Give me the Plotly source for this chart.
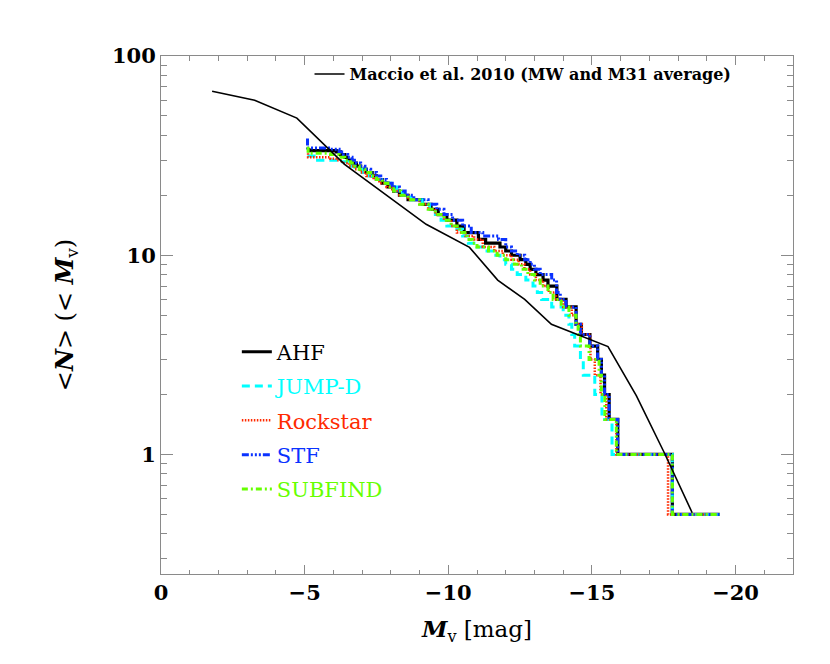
import plotly.graph_objects as go

# Magnitude where each level starts, and the mean satellite count at that level
ahf_mv = [-5.15, -5.15, -6.1, -6.25, -6.4, -6.5, -6.65, -6.8, -6.95, -7.15, -7.35, -7.5, -7.7, -7.9,
          -8.1, -8.3, -8.6, -9.1, -9.4, -9.65, -9.95, -10.3, -10.55, -11.05, -11.3, -11.8, -12.0,
          -12.2, -12.5, -12.7, -12.85, -13.05, -13.3, -13.47, -13.78, -14.1, -14.45, -14.63, -14.93,
          -15.2, -15.33, -15.44, -15.6, -15.9, -17.8, -19.45]
ahf_n = [34.5, 33.5, 33, 32, 31, 30, 29, 28, 27, 26, 25, 24, 23, 22, 21, 20, 19, 18, 17, 16, 15, 14,
         13, 12, 11.5, 11, 10.5, 10, 9.5, 9, 8.5, 8, 7.5, 7, 6, 5.5, 4.5, 4, 3.5, 3, 2.5, 2, 1.5, 1,
         0.5, 0.5]

jump_mv = [-5.15, -5.15, -5.45, -6.2, -6.5, -6.75, -7.0, -7.25, -7.45, -7.75, -8.0, -8.2, -8.4, -8.7,
           -9.1, -9.35, -9.55, -9.75, -9.95, -10.3, -10.5, -10.7, -11.0, -11.35, -11.6, -11.8, -12.0,
           -12.2, -12.4, -12.7, -12.95, -13.1, -13.25, -13.6, -14.0, -14.2, -14.3, -14.4, -14.6,
           -14.7, -15.1, -15.35, -15.7, -17.8, -19.45]
jump_n = [32, 31.5, 30, 29.5, 28, 27, 26, 25, 24, 23, 22, 21, 20, 19, 18, 17, 16, 15, 14, 13.5, 12.5,
          11.5, 11, 10.5, 10, 9.5, 9, 8.5, 8, 7.5, 7, 6.5, 6, 5.5, 5, 4.5, 4, 3.5, 3, 2.5, 2, 1.5, 1,
          0.5, 0.5]

rock_mv = [-5.12, -5.12, -5.9, -6.1, -6.3, -6.55, -6.75, -6.95, -7.15, -7.4, -7.6, -7.85, -8.05, -8.3,
           -8.6, -9.0, -9.3, -9.55, -9.85, -10.1, -10.3, -10.6, -10.9, -11.2, -11.6, -11.9, -12.2,
           -12.45, -12.65, -12.85, -13.05, -13.3, -13.5, -13.75, -14.0, -14.3, -14.45, -14.65,
           -14.95, -15.1, -15.3, -15.5, -15.85, -17.65, -19.45]
rock_n = [32.5, 31, 30.5, 30, 29, 28, 27, 26, 25, 24, 23, 22, 21, 20, 19, 18, 17, 16, 15, 14, 13, 12.5,
          12, 11, 10.5, 10, 9.5, 9, 8.5, 8, 7.5, 7, 6.5, 6, 5.5, 5, 4.5, 4, 3, 2.5, 2, 1.5, 1, 0.5,
          0.5]

stf_mv = [-5.1, -5.1, -5.9, -6.2, -6.35, -6.5, -6.65, -6.8, -6.95, -7.1, -7.3, -7.5, -7.65, -7.85,
          -8.05, -8.3, -8.5, -8.8, -9.3, -9.6, -9.85, -10.15, -10.5, -10.8, -11.2, -11.75, -12.0,
          -12.2, -12.4, -12.66, -12.85, -13.0, -13.2, -13.6, -13.77, -13.9, -14.1, -14.45, -14.6,
          -14.93, -15.2, -15.33, -15.44, -15.6, -15.9, -17.8, -19.45]
stf_n = [38.5, 34.5, 34, 33, 32, 31, 30, 29, 28, 27, 26, 25, 24, 23, 22, 21, 20, 19, 18, 17, 16, 15,
         14, 13, 12.5, 12, 11, 10.5, 10, 9.5, 9, 8.5, 8, 7.5, 6.5, 6, 5.5, 4.5, 4, 3.5, 3, 2.5, 2,
         1.5, 1, 0.5, 0.5]

subf_mv = [-5.12, -5.12, -5.9, -6.2, -6.4, -6.6, -6.75, -6.9, -7.1, -7.3, -7.5, -7.7, -7.9, -8.1,
           -8.35, -8.6, -9.0, -9.3, -9.55, -9.85, -10.1, -10.4, -10.65, -10.85, -11.0, -11.4, -11.7,
           -12.0, -12.3, -12.55, -12.77, -13.0, -13.2, -13.47, -13.65, -13.93, -14.2, -14.45, -14.52,
           -14.6, -14.9, -15.25, -15.33, -15.45, -15.85, -17.8, -19.45]
subf_n = [35, 32.5, 32, 31, 30, 29, 28, 27, 26, 25, 24, 23, 22, 21, 20, 19, 18, 17, 16, 15, 14, 13,
          12, 11.5, 11, 10.5, 10, 9.5, 9, 8.5, 8, 7.5, 7, 6.5, 6, 5.5, 5, 4.5, 4, 3.5, 3, 2.5, 2, 1.5,
          1, 0.5, 0.5]

maccio_mv = [-1.78, -3.26, -4.73, -6.39, -9.23, -10.74, -11.72, -12.66, -13.59, -15.56, -16.55,
             -17.52, -18.49]
maccio_n = [66.5, 60, 48.8, 28.6, 14.3, 10.95, 7.5, 6.0, 4.5, 3.48, 1.97, 1.02, 0.51]

finders = [
    ("AHF", ahf_mv, ahf_n, "black", "solid", 3.2),
    ("JUMP-D", jump_mv, jump_n, "#00ffff", "8px,5px", 3),
    ("Rockstar", rock_mv, rock_n, "#ff2a00", "1.5px,1.5px", 2.5),
    ("STF", stf_mv, stf_n, "#0a32ff", "7px,2px,2px,2px,2px,2px,2px,2px", 3),
    ("SUBFIND", subf_mv, subf_n, "#66ff00", "6px,3px,2px,3px", 3),
]

fig = go.Figure()

for navn, mv, n, farge, strek, bredde in finders:
    fig.add_trace(
        go.Scatter(
            x=mv,
            y=n,
            mode="lines",
            line=dict(color=farge, dash=strek, width=bredde, shape="hv"),
            name=f"<span style='color:{farge}'>{navn}</span>",
            legend="legend2",
            legendgroup=navn,
        )
    )

fig.add_trace(
    go.Scatter(
        x=maccio_mv,
        y=maccio_n,
        mode="lines",
        line=dict(color="black", width=1.6),
        name="Maccio et al. 2010 (MW and M31 average)",
        legend="legend",
    )
)

akse = dict(
    showline=True,
    linecolor="#8a8a8a",
    linewidth=1,
    mirror="allticks",
    ticks="inside",
    tickcolor="#8a8a8a",
    showgrid=False,
    zeroline=False,
    tickfont=dict(family="DejaVu Serif", size=21, color="black", weight="bold"),
)

fig.update_layout(
    width=830,
    height=664,
    margin=dict(l=153, r=45, t=48, b=98),
    plot_bgcolor="white",
    paper_bgcolor="white",
    xaxis=dict(
        akse,
        range=[0, -22],
        tick0=0,
        dtick=5,
        ticklen=9,
        minor=dict(dtick=1, ticks="inside", ticklen=4.5, tickcolor="#8a8a8a"),
        title=dict(
            text="<b><i>M</i></b><sub>v</sub> [mag]",
            font=dict(family="DejaVu Serif", size=23, color="black"),
            standoff=16,
        ),
    ),
    yaxis=dict(
        akse,
        type="log",
        range=[-0.6, 2.0],
        dtick=1,
        ticklen=12,
        minor=dict(dtick="D1", ticks="inside", ticklen=6, tickcolor="#8a8a8a"),
        title=dict(
            text="&lt;<b><i>N</i></b>&gt; (&lt; <b><i>M</i></b><sub>v</sub>)",
            font=dict(family="DejaVu Serif", size=24, color="black"),
            standoff=31,
        ),
    ),
    legend=dict(
        x=0.235,
        y=0.998,
        xanchor="left",
        yanchor="top",
        bgcolor="rgba(0,0,0,0)",
        font=dict(family="DejaVu Serif", size=16, color="black", weight="bold"),
        itemwidth=30,
    ),
    legend2=dict(
        x=0.12,
        y=0.468,
        xanchor="left",
        yanchor="top",
        bgcolor="rgba(0,0,0,0)",
        font=dict(family="DejaVu Serif", size=21),
        tracegroupgap=4,
        itemwidth=30,
    ),
    showlegend=True,
)

fig.write_html("out.html")
